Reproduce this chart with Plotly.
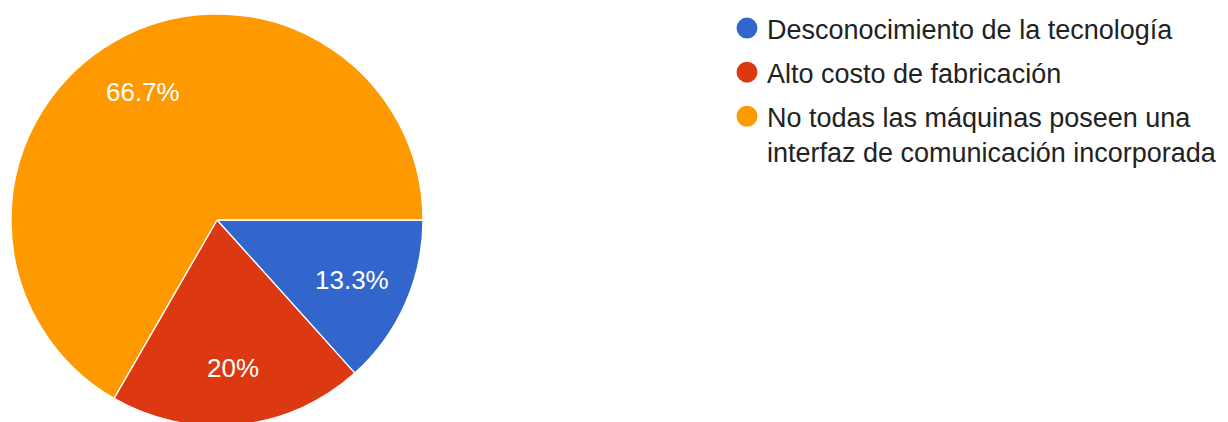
import math
import plotly.graph_objects as go

labels = ["Desconocimiento de la tecnología",
          "Alto costo de fabricación",
          "No todas las máquinas poseen una<br>interfaz de comunicación incorporada"]
values = [2, 3, 10]
colors = ["#3366CC", "#DC3912", "#FF9900"]

W, H = 1228, 422
FONT = "Liberation Sans, Arial, sans-serif"
# pie geometry (pixels, figure coordinates)
cx, cy, r = 209, 212, 206
dom_x = [(cx - r) / W, (cx + r) / W]
dom_y = [(H - (cy + r)) / H, (H - (cy - r)) / H]

fig = go.Figure()
fig.add_trace(go.Pie(
    labels=labels, values=values, sort=False, direction="clockwise", rotation=90,
    marker=dict(colors=colors, line=dict(color="white", width=1.3)),
    textinfo="none", showlegend=False, hoverinfo="label+percent",
    domain=dict(x=dom_x, y=dom_y),
))
for i, (lab, col) in enumerate(zip(labels, colors)):
    fig.add_trace(go.Scatter(
        x=[None], y=[None], mode="markers", name=lab, legendgroup=f"g{i}",
        marker=dict(symbol="circle", size=16, color=col, line=dict(color=col, width=6)),
    ))

# percentage labels at slice mid-angles
total = sum(values)
start = 90.0
annotations = []
for v in values:
    frac = v / total
    mid = start + frac * 360 / 2
    start += frac * 360
    th = math.radians(mid)
    px = cx + 0.72 * r * math.sin(th)
    py = cy - 0.72 * r * math.cos(th)
    txt = f"{frac * 100:.1f}".rstrip("0").rstrip(".") + "%"
    annotations.append(dict(x=px / W, y=1 - py / H, xref="paper", yref="paper",
                            xanchor="center", yanchor="middle",
                            text=txt, showarrow=False,
                            font=dict(color="white", size=26, family=FONT)))

fig.update_layout(
    width=W, height=H, margin=dict(l=0, r=0, t=0, b=0, autoexpand=False),
    paper_bgcolor="white", plot_bgcolor="white",
    xaxis=dict(visible=False), yaxis=dict(visible=False),
    font=dict(family=FONT, color="#222222"),
    annotations=annotations,
    legend=dict(x=719 / W, y=1 + 4 / H, xanchor="left", yanchor="top",
                font=dict(size=27, color="#222222"), tracegroupgap=6,
                valign="top",
                itemsizing="trace", bgcolor="rgba(0,0,0,0)"),
)
fig.write_html("out.html")
